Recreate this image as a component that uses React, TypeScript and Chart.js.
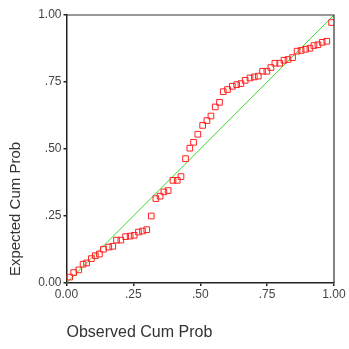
import React, { useEffect, useRef } from "react";
import { Chart, registerables } from "chart.js";

Chart.register(...registerables);

const observed = [
  0.012, 0.027, 0.046, 0.062, 0.075, 0.093, 0.108, 0.123, 0.138, 0.158,
  0.173, 0.187, 0.203, 0.221, 0.238, 0.253, 0.269, 0.284, 0.300, 0.317,
  0.334, 0.350, 0.364, 0.380, 0.398, 0.414, 0.428, 0.445, 0.461, 0.475,
  0.491, 0.509, 0.525, 0.540, 0.556, 0.572, 0.586, 0.602, 0.620, 0.636,
  0.652, 0.668, 0.686, 0.702, 0.717, 0.733, 0.749, 0.764, 0.779, 0.797,
  0.813, 0.828, 0.845, 0.862, 0.877, 0.894, 0.910, 0.925, 0.940, 0.956,
  0.973, 0.991,
];
const expected = [
  0.022, 0.039, 0.049, 0.070, 0.075, 0.091, 0.102, 0.108, 0.126, 0.134,
  0.137, 0.160, 0.160, 0.173, 0.175, 0.178, 0.190, 0.194, 0.199, 0.250,
  0.315, 0.324, 0.340, 0.345, 0.383, 0.383, 0.397, 0.464, 0.503, 0.525,
  0.555, 0.588, 0.606, 0.623, 0.657, 0.674, 0.714, 0.722, 0.734, 0.740,
  0.744, 0.756, 0.765, 0.769, 0.772, 0.790, 0.790, 0.804, 0.820, 0.820,
  0.831, 0.834, 0.841, 0.865, 0.868, 0.872, 0.876, 0.886, 0.889, 0.898,
  0.902, 0.972,
];
const refLineX = [0, 1];
const refLineY = [0, 1];
const tickValues = [0, 0.25, 0.5, 0.75, 1];
const tickLabels = ["0.00", ".25", ".50", ".75", "1.00"];
const xTitle = "Observed Cum Prob";
const yTitle = "Expected Cum Prob";

const FONT = "'Liberation Sans', Arial, sans-serif";

const fmt = (v: number) => {
  const i = tickValues.findIndex((t) => Math.abs(t - v) < 1e-6);
  return i >= 0 ? tickLabels[i] : "";
};

const frame = {
  id: "frame",
  afterDatasetsDraw(chart: any) {
    const { ctx, chartArea: a } = chart;
    ctx.save();
    ctx.strokeStyle = "#333333";
    ctx.lineWidth = 1.2;
    ctx.beginPath();
    ctx.moveTo(a.left, a.top);
    ctx.lineTo(a.right, a.top);
    ctx.lineTo(a.right, a.bottom);
    ctx.stroke();
    ctx.restore();
  },
  afterDraw(chart: any) {
    const { ctx, chartArea: a } = chart;
    ctx.save();
    ctx.fillStyle = "#333333";
    ctx.textBaseline = "middle";
    ctx.font = `16px ${FONT}`;
    ctx.textAlign = "left";
    ctx.fillText(xTitle, a.left, 333);
    ctx.font = `15px ${FONT}`;
    ctx.translate(16, 209);
    ctx.rotate(-Math.PI / 2);
    ctx.textAlign = "center";
    ctx.fillText(yTitle, 0, 0);
    ctx.restore();
  },
};

export default function App() {
  const ref = useRef<HTMLCanvasElement>(null);
  useEffect(() => {
    const font = { family: FONT };
    const chart = new Chart(ref.current!, {
      type: "scatter",
      data: {
        datasets: [
          {
            type: "line",
            data: refLineX.map((x, i) => ({ x, y: refLineY[i] })),
            borderColor: "#33dd22",
            borderWidth: 1,
            pointRadius: 0,
            order: 2,
          } as any,
          {
            data: observed.map((x, i) => ({ x, y: expected[i] })),
            pointStyle: "rect",
            pointRadius: 4,
            borderColor: "#ff2222",
            backgroundColor: "rgba(255,255,255,0)",
            borderWidth: 1,
            order: 1,
          },
        ],
      },
      plugins: [frame],
      options: {
        animation: false,
        responsive: false,
        events: [],
        layout: { padding: { top: 15, right: 15, left: 0, bottom: 0 } },
        plugins: { legend: { display: false }, tooltip: { enabled: false } },
        scales: {
          x: {
            type: "linear",
            min: 0,
            max: 1,
            afterBuildTicks: (s: any) => {
              s.ticks = tickValues.map((v) => ({ value: v }));
            },
            afterFit: (s: any) => {
              s.height = 66;
            },
            ticks: {
              callback: (v: any) => fmt(Number(v)),
              color: "#444444",
              font: { ...font, size: 12 },
              padding: 1,
              maxRotation: 0,
            },
            grid: {
              drawOnChartArea: false,
              drawTicks: true,
              tickLength: 3,
              color: "#222222",
              lineWidth: 1.5,
            },
            border: { color: "#222222", width: 1.5 },
          },
          y: {
            type: "linear",
            min: 0,
            max: 1,
            afterBuildTicks: (s: any) => {
              s.ticks = tickValues.map((v) => ({ value: v }));
            },
            afterFit: (s: any) => {
              s.width = 66.5;
            },
            ticks: {
              callback: (v: any) => fmt(Number(v)),
              color: "#444444",
              font: { ...font, size: 12 },
              padding: 2,
            },
            grid: {
              drawOnChartArea: false,
              drawTicks: true,
              tickLength: 3,
              color: "#222222",
              lineWidth: 1.5,
            },
            border: { color: "#222222", width: 1.5 },
          },
        },
      } as any,
    });
    return () => chart.destroy();
  }, []);
  return (
    <div style={{ position: "fixed", left: 0, top: 0, width: 349, height: 349, background: "#fff" }}>
      <canvas ref={ref} width={349} height={349} style={{ width: 349, height: 349 }} />
    </div>
  );
}
